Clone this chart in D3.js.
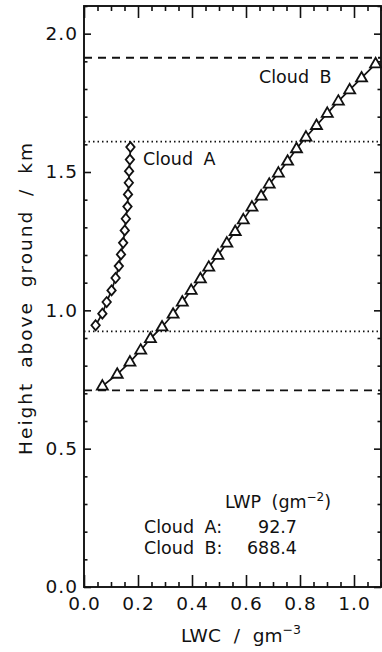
<!DOCTYPE html>
<html>
<head>
<meta charset="utf-8">
<script src="https://cdn.jsdelivr.net/npm/d3@7"></script>
<style>
  body { margin: 0; background: #fff; }
  text { font-family: "DejaVu Sans", sans-serif; fill: #111; word-spacing: 5px; }
</style>
</head>
<body>
<svg id="chart" width="382" height="652"></svg>
<script>
// cloud A profile (diamonds)
const cloudA_lwc = [0.043, 0.068, 0.084, 0.102, 0.117, 0.129, 0.137, 0.145, 0.151, 0.155, 0.161, 0.163, 0.166, 0.167, 0.170, 0.172];
const cloudA_height = [0.946, 0.988, 1.030, 1.072, 1.117, 1.160, 1.202, 1.244, 1.289, 1.331, 1.375, 1.419, 1.461, 1.503, 1.545, 1.590];

// cloud B profile (triangles)
const cloudB_lwc = [0.068, 0.123, 0.170, 0.210, 0.246, 0.289, 0.330, 0.364, 0.397, 0.431, 0.462, 0.496, 0.529, 0.560,
  0.590, 0.622, 0.656, 0.686, 0.720, 0.754, 0.787, 0.822, 0.861, 0.901, 0.942, 0.984, 1.028, 1.080];
const cloudB_height = [0.726, 0.769, 0.813, 0.856, 0.898, 0.940, 0.986, 1.030, 1.072, 1.114, 1.156, 1.199, 1.243, 1.285,
  1.327, 1.373, 1.413, 1.456, 1.496, 1.539, 1.584, 1.626, 1.668, 1.712, 1.756, 1.797, 1.840, 1.891];

// cloud boundaries
const cloudA_bounds = [0.924, 1.61];
const cloudB_bounds = [0.711, 1.913];

const xMajor = [0.0, 0.2, 0.4, 0.6, 0.8, 1.0];
const yMajor = [0.0, 0.5, 1.0, 1.5, 2.0];

const lwpNames = ['Cloud A:', 'Cloud B:'];
const lwpValues = ['92.7', '688.4'];

const svg = d3.select('#chart');

let margin = { top: 6, right: 1, bottom: 65, left: 84 };
const width = 382, height = 652;

const x = d3.scaleLinear().domain([0, 1.1]).range([margin.left, width - margin.right]);
const y = d3.scaleLinear().domain([0, 2.1]).range([height - margin.bottom, margin.top]);

const xMinor = d3.range(0, 1.1001, 0.05).filter(v => !xMajor.some(m => Math.abs(m - v) < 1e-6));
const yMinor = d3.range(0, 2.1001, 0.1).filter(v => !yMajor.some(m => Math.abs(m - v) < 1e-6));

const fontSize = 18.5;

// ticks and labels
function styleAxis(g) {
  g.select('.domain').remove();
  g.selectAll('line').attr('stroke', '#111').attr('stroke-width', 1.6);
  g.selectAll('text').style('font-size', fontSize + 'px').style('letter-spacing', '1px').attr('fill', '#111');
}

svg.append('g').attr('transform', `translate(0,${y(0)})`)
  .call(d3.axisBottom(x).tickValues(xMajor).tickFormat(d3.format('.1f')).tickSize(-12).tickPadding(10))
  .call(styleAxis);
svg.append('g').attr('transform', `translate(0,${y(0)})`)
  .call(d3.axisBottom(x).tickValues(xMinor).tickFormat('').tickSize(-5))
  .call(styleAxis);
svg.append('g').attr('transform', `translate(0,${y(2.1)})`)
  .call(d3.axisTop(x).tickValues(xMajor).tickFormat('').tickSize(-12))
  .call(styleAxis);
svg.append('g').attr('transform', `translate(0,${y(2.1)})`)
  .call(d3.axisTop(x).tickValues(xMinor).tickFormat('').tickSize(-5))
  .call(styleAxis);

svg.append('g').attr('transform', `translate(${x(0)},0)`)
  .call(d3.axisLeft(y).tickValues(yMajor).tickFormat(d3.format('.1f')).tickSize(-7).tickPadding(6))
  .call(styleAxis);
svg.append('g').attr('transform', `translate(${x(0)},0)`)
  .call(d3.axisLeft(y).tickValues(yMinor).tickFormat('').tickSize(-3.5))
  .call(styleAxis);
svg.append('g').attr('transform', `translate(${x(1.1)},0)`)
  .call(d3.axisRight(y).tickValues(yMajor).tickFormat('').tickSize(-7))
  .call(styleAxis);
svg.append('g').attr('transform', `translate(${x(1.1)},0)`)
  .call(d3.axisRight(y).tickValues(yMinor).tickFormat('').tickSize(-3.5))
  .call(styleAxis);

// frame
svg.append('rect')
  .attr('x', x(0)).attr('y', y(2.1))
  .attr('width', x(1.1) - x(0)).attr('height', y(0) - y(2.1))
  .attr('fill', 'none').attr('stroke', '#111').attr('stroke-width', 1.9);

// cloud boundaries
svg.selectAll('.boundB').data(cloudB_bounds).enter().append('line')
  .attr('x1', x(0)).attr('x2', x(1.1))
  .attr('y1', d => y(d)).attr('y2', d => y(d))
  .attr('stroke', '#111').attr('stroke-width', 1.8).attr('stroke-dasharray', '8,6');
svg.selectAll('.boundA').data(cloudA_bounds).enter().append('line')
  .attr('x1', x(0)).attr('x2', x(1.1))
  .attr('y1', d => y(d)).attr('y2', d => y(d))
  .attr('stroke', '#111').attr('stroke-width', 1.7).attr('stroke-dasharray', '1.5,3');

// profiles
const line = d3.line().x(d => x(d[0])).y(d => y(d[1]));
const ptsA = cloudA_lwc.map((v, i) => [v, cloudA_height[i]]);
const ptsB = cloudB_lwc.map((v, i) => [v, cloudB_height[i]]);

svg.append('path').datum(ptsA).attr('d', line)
  .attr('fill', 'none').attr('stroke', '#111').attr('stroke-width', 1.7);
svg.append('path').datum(ptsB).attr('d', line)
  .attr('fill', 'none').attr('stroke', '#111').attr('stroke-width', 1.7);

svg.selectAll('.diamond').data(ptsA).enter().append('path')
  .attr('d', d => {
    const cx = x(d[0]), cy = y(d[1]);
    return `M${cx},${cy - 5}L${cx + 4.2},${cy}L${cx},${cy + 5}L${cx - 4.2},${cy}Z`;
  })
  .attr('fill', '#fff').attr('stroke', '#111').attr('stroke-width', 1.8);

svg.selectAll('.tri').data(ptsB).enter().append('path')
  .attr('d', d => {
    const cx = x(d[0]), cy = y(d[1]);
    return `M${cx},${cy - 6}L${cx + 5.5},${cy + 3.5}L${cx - 5.5},${cy + 3.5}Z`;
  })
  .attr('fill', '#fff').attr('stroke', '#111').attr('stroke-width', 1.8);

// labels
svg.append('text').attr('x', 143).attr('y', 165).style('font-size', '17.5px').text('Cloud A');
svg.append('text').attr('x', 259).attr('y', 83).style('font-size', '17.5px').text('Cloud B');

const lwp = svg.append('text').attr('x', 225).attr('y', 508).style('font-size', '17.5px');
lwp.append('tspan').text('LWP (gm');
lwp.append('tspan').attr('dy', -7).style('font-size', '12px').text('−2');
lwp.append('tspan').attr('dy', 7).text(')');

svg.selectAll('.lwpName').data(lwpNames).enter().append('text')
  .attr('x', 144).attr('y', (d, i) => 533 + i * 21).style('font-size', '17.5px').text(d => d);
svg.selectAll('.lwpVal').data(lwpValues).enter().append('text')
  .attr('x', 297).attr('y', (d, i) => 533 + i * 21).attr('text-anchor', 'end')
  .style('font-size', '17.5px').text(d => d);

// axis titles
const xt = svg.append('text').attr('x', 181).attr('y', 642).style('font-size', fontSize + 'px')
  .style('word-spacing', '7px');
xt.append('tspan').text('LWC / gm');
xt.append('tspan').attr('dy', -8).style('font-size', '12.5px').text('−3');

svg.append('text').attr('transform', `translate(32,${298}) rotate(-90)`)
  .attr('text-anchor', 'middle').style('font-size', fontSize + 'px')
  .style('letter-spacing', '2px').style('word-spacing', '6px')
  .text('Height above ground / km');
</script>
</body>
</html>
